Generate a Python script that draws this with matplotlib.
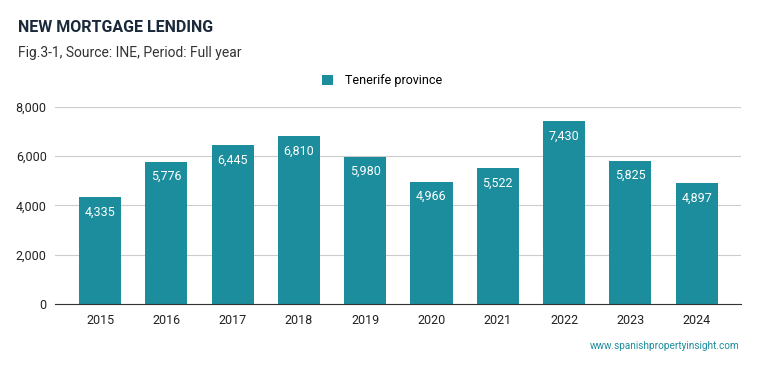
import matplotlib.pyplot as plt

plt.rcParams['font.family'] = ['Roboto', 'DejaVu Sans']

years = ['2015', '2016', '2017', '2018', '2019', '2020', '2021', '2022', '2023', '2024']
loans = [4335, 5776, 6445, 6810, 5980, 4966, 5522, 7430, 5825, 4897]
yticks = [0, 2000, 4000, 6000, 8000]

bar_color = '#1c8d9c'

fig = plt.figure(figsize=(7.59, 3.71), dpi=100)
ax = fig.add_axes([55 / 759, 1 - 304 / 371, 686 / 759, 197 / 371])

x = range(len(years))
bars = ax.bar(x, loans, width=0.635, color=bar_color, label='Tenerife province', zorder=3)
for xi, v in zip(x, loans):
    ax.annotate(f'{v:,}', (xi, v), xytext=(0, -6), textcoords='offset points',
                ha='center', va='top', color='white', fontsize=9, zorder=4)

ax.set_xlim(-0.68, 9.67)
ax.set_ylim(0, 8000)
ax.set_yticks(yticks)
ax.set_yticklabels([f'{t:,}' for t in yticks])
ax.set_xticks(list(x))
ax.set_xticklabels(years)
ax.grid(axis='y', color='#cccccc', linewidth=0.8, zorder=0)
for s in ['top', 'right', 'left']:
    ax.spines[s].set_visible(False)
ax.spines['bottom'].set_color('#333333')
ax.spines['bottom'].set_zorder(5)
ax.tick_params(axis='both', length=0, labelsize=9, colors='#222222')
ax.tick_params(axis='y', pad=6)
ax.tick_params(axis='x', pad=7)

fig.text(18 / 759, 1 - 27 / 371, 'NEW MORTGAGE LENDING', fontsize=11.5, fontweight='bold',
         color='#1b2a3a', va='center')
fig.text(18 / 759, 1 - 53 / 371, 'Fig.3-1, Source: INE, Period: Full year', fontsize=10,
         color='#333333', va='center')
ax.legend(loc='center', bbox_to_anchor=(382 / 759, 1 - 80.5 / 371), bbox_transform=fig.transFigure,
          frameon=False, fontsize=9, handlelength=0.9, handleheight=0.9, handletextpad=0.9)
fig.text(740 / 759, 1 - 346 / 371, 'www.spanishpropertyinsight.com', fontsize=7.2,
         color='#1c8d9c', ha='right', va='center')

fig.savefig('out.png', dpi=100)
